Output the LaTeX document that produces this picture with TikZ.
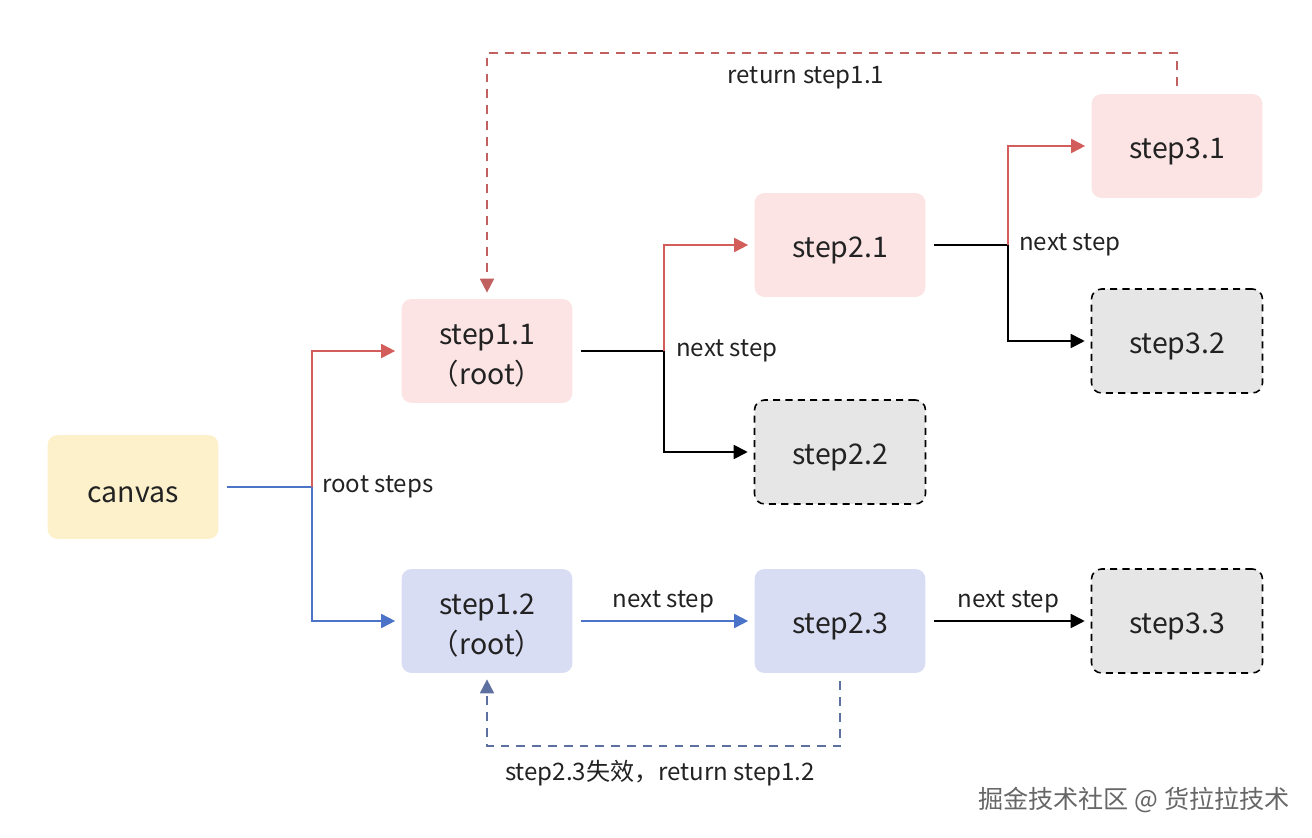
\documentclass[tikz,border=0pt]{standalone}
\usepackage{fontspec}
\setmainfont{Noto Sans CJK SC}
\usepackage{tikz}
\usetikzlibrary{arrows.meta}
\definecolor{pinkfill}{HTML}{FCE4E4}
\definecolor{bluefill}{HTML}{D9DDF3}
\definecolor{yellowfill}{HTML}{FDF1CC}
\definecolor{grayfill}{HTML}{E6E6E6}
\definecolor{redline}{HTML}{D35D5B}
\definecolor{blueline}{HTML}{4B73C7}
\definecolor{reddashc}{HTML}{C0605F}
\definecolor{bluedashc}{HTML}{5D709F}
\definecolor{textc}{HTML}{222222}
\tikzset{
		stepbox/.style={rounded corners=0.2cm, minimum width=3.42cm, minimum height=2.08cm,
			align=center, font=\fontsize{16.2}{23}\selectfont, text=textc, text height=18pt},
		rootbox/.style={text height=40pt},
		redbox/.style={stepbox, fill=pinkfill},
		bluebox/.style={stepbox, fill=bluefill},
		yellowbox/.style={stepbox, fill=yellowfill},
		graybox/.style={stepbox, fill=grayfill, draw=black, dashed, line width=0.9pt, dash pattern=on 4pt off 3pt},
		conn/.style={line width=1pt, shorten <=0.16cm, shorten >=0.12cm,
			-{Triangle[length=0.28cm, width=0.28cm]}},
		plain/.style={line width=1pt, shorten <=0.16cm},
		lbl/.style={font=\fontsize{13.7}{16}\selectfont, text=textc}
	}

\begin{document}
\begin{tikzpicture}[x=0.02cm, y=-0.02cm]
				\useasboundingbox (0,0) rectangle (1312,838);

				\node[yellowbox]         (canvas) at (133,487) {canvas};
				\node[redbox, rootbox]   (s11)    at (487,351) {step1.1\\（root）};
				\node[bluebox, rootbox]  (s12)    at (487,621) {step1.2\\（root）};
				\node[redbox]            (s21)    at (840,245) {step2.1};
				\node[graybox]           (s22)    at (840,452) {step2.2};
				\node[bluebox]           (s23)    at (840,621) {step2.3};
				\node[redbox]            (s31)    at (1177,146) {step3.1};
				\node[graybox]           (s32)    at (1177,341) {step3.2};
				\node[graybox]           (s33)    at (1177,621) {step3.3};

				\coordinate (b0) at (312,487);
				\coordinate (b1) at (664,351);
				\coordinate (b2) at (1008,245);
				\coordinate (up) at (1177,53);
				\coordinate (down) at (840,746);

				% root steps
				\draw[plain, blueline] (canvas.east) -- (b0);
				\draw[conn, blueline, shorten <=0pt] (b0) |- (s12.west);
				\draw[conn, redline, shorten <=0pt] (b0) |- (s11.west);
				\node[lbl, anchor=west] at (b0) [xshift=0.08cm] {root steps};

				% from step1.1
				\draw[plain, black] (s11.east) -- (b1);
				\draw[conn, redline, shorten <=0pt] (b1) |- (s21.west);
				\draw[conn, black, shorten <=0pt] (b1) |- (s22.west);
				\node[lbl, anchor=west] at (b1) [xshift=0.12cm] {next step};

				% from step2.1
				\draw[plain, black] (s21.east) -- (b2);
				\draw[conn, redline, shorten <=0pt] (b2) |- (s31.west);
				\draw[conn, black, shorten <=0pt] (b2) |- (s32.west);
				\node[lbl, anchor=west] at (b2) [xshift=0.1cm] {next step};

				% lower row
				\draw[conn, blueline] (s12) -- node[lbl, above, yshift=0.02cm] {next step} (s23);
				\draw[conn, black] (s23) -- node[lbl, above, yshift=0.02cm] {next step} (s33);

				% returns
				\draw[conn, reddashc, dashed, dash pattern=on 5pt off 4pt] (s31.north) -- (up) -| (s11.north);
				\node[lbl] at (806,78) {return step1.1};
				\draw[conn, bluedashc, dashed, dash pattern=on 5pt off 4pt] (s23.south) -- (down) -| (s12.south);
				\node[lbl] at (660,773) {step2.3失效，return step1.2};

				\node[font=\fontsize{14.3}{17}\selectfont, text=black!60] (credit) at (1134,800) {掘金技术社区 @ 货拉拉技术};
			\end{tikzpicture}
\end{document}
